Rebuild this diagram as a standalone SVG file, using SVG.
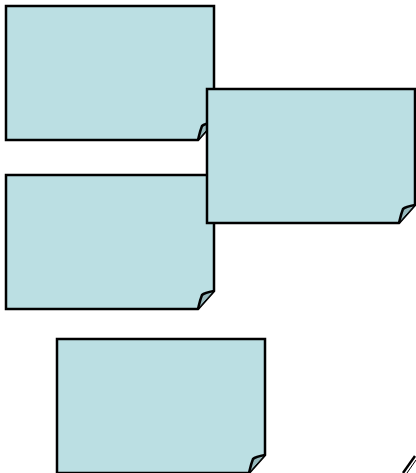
<svg xmlns="http://www.w3.org/2000/svg" xmlns:xlink="http://www.w3.org/1999/xlink" width="416" height="473" viewBox="0 0 416 473">
<style>
.body{fill:#BBDFE3;stroke:#000;stroke-width:2.5;stroke-linejoin:miter}
.flap{fill:#96B8BC;stroke:#000;stroke-width:2.5;stroke-linejoin:round}
.edge{fill:none;stroke:#000;stroke-width:1}
</style>
<defs>
<g id="note">
<path class="body" d="M0,0 H208 V116 L192,134 H0 Z"/>
<path class="flap" d="M208,116 C202,117 198,118 196,120 C194,125 193,130 192,134"/>
<path class="edge" d="M208,116 L192,134"/>
</g>
</defs>
<rect width="416" height="473" fill="#fff"/>
<g id="note1" transform="translate(6,6)"><use xlink:href="#note"/></g>
<g id="note3" transform="translate(6,175)"><use xlink:href="#note"/></g>
<g id="note2" transform="translate(207,89)"><use xlink:href="#note"/></g>
<g id="note4" transform="translate(57,339)"><use xlink:href="#note"/></g>
<g id="note5">
<path d="M403,473 L415,456" fill="none" stroke="#000" stroke-width="2.5"/>
<path d="M407,473 L416,460" fill="none" stroke="#000" stroke-width="1"/>
</g>
</svg>
